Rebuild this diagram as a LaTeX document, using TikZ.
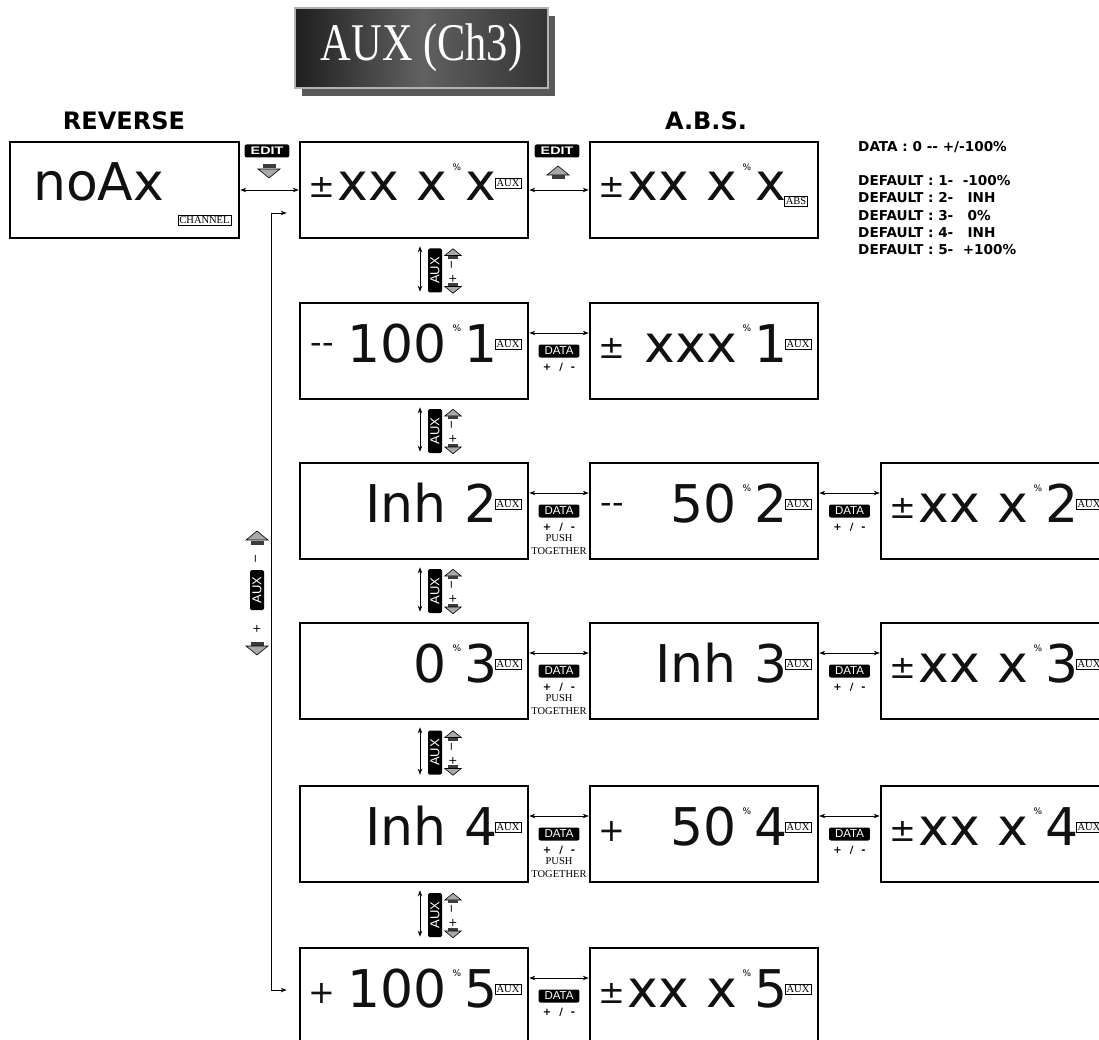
\documentclass[tikz,border=0pt]{standalone}
\usepackage{fontspec}
\setmainfont{DejaVu Sans}
\newfontfamily\lcdfont{DejaVu Sans}
\newfontfamily\tagfont{Liberation Serif}
\newfontfamily\titlefont[FakeStretch=0.8]{Liberation Serif}
\newfontfamily\keyfont{Liberation Sans}
\definecolor{lcdink}{HTML}{111111}
\definecolor{icongray}{HTML}{A8A8A8}
\definecolor{icondark}{HTML}{3C3C3C}
\usetikzlibrary{arrows.meta, positioning, calc, shadows}

\tikzset{
  lcdbox/.style={draw, line width=2.6pt, minimum width=228pt, minimum height=96pt, inner sep=0pt},
  lcdtxt/.style={inner sep=0pt, text=lcdink, font=\lcdfont\fontsize{52}{52}\selectfont},
  lcdsign/.style={inner sep=0pt, text=lcdink, font=\lcdfont\fontsize{32}{32}\selectfont},
  pct/.style={inner sep=0pt, font=\lcdfont\fontsize{9}{9}\selectfont},
  tag/.style={draw, line width=0.6pt, inner xsep=1.5pt, inner ysep=1.5pt, font=\tagfont\fontsize{10.5}{10.5}\selectfont},
  keytag/.style={fill=black, text=white, rounded corners=2pt, inner xsep=6pt, inner ysep=0pt, minimum height=13pt},
  auxv/.style={fill=black, text=white, rounded corners=1.5pt, rotate=90, inner sep=0pt,
    minimum width=44pt, minimum height=14pt, font=\keyfont\fontsize{13}{13}\selectfont},
  sm/.style={inner sep=0pt, font=\lcdfont\fontsize{11}{11}\selectfont},
  pm/.style={inner sep=0pt, font=\bfseries\fontsize{10}{10}\selectfont},
  push/.style={inner sep=0pt, align=center, font=\tagfont\fontsize{10.5}{13}\selectfont},
  hdr/.style={inner sep=0pt, font=\bfseries\fontsize{24}{24}\selectfont},
  note/.style={inner sep=0pt, font=\bfseries\fontsize{13.6}{17.2}\selectfont},
  dbl/.style={{Stealth[length=6pt,width=4.5pt]}-{Stealth[length=6pt,width=4.5pt]}, line width=0.8pt},
  titlebox/.style={minimum width=253pt, minimum height=80pt, draw=gray!60, line width=1.2pt,
    left color=black!88, right color=black!80, middle color=black!62, text=white,
    font=\titlefont\fontsize{53}{53}\selectfont,
    drop shadow={shadow xshift=7pt, shadow yshift=-8pt, fill=black!65, opacity=1}},
  upicon/.pic={
    \filldraw[fill=icongray, draw=black, line width=0.6pt] (-11,0) -- (11,0) -- (0,-9) -- cycle;
    \fill[icondark] (-6.5,0.5) rectangle (6.5,4.5);
  },
  dnicon/.pic={
    \fill[icondark] (-6.5,-0.5) rectangle (6.5,-4.5);
    \filldraw[fill=icongray, draw=black, line width=0.6pt] (-11,0) -- (11,0) -- (0,9) -- cycle;
  }
}

\begin{document}
\begin{tikzpicture}[x=1pt, y=-1pt]
  \useasboundingbox (0,0) rectangle (1099,1040);

  % Title plate
  \node[titlebox] (title) at (421.5,48) {AUX (Ch3)};

  % Headings and notes
  \node[hdr, anchor=base] (revh) at (124,130) {REVERSE};
  \node[hdr, anchor=base] (absh) at (706,130) {A.B.S.};
  \node[note, anchor=base west] (range) at (858,152) {DATA : 0 -{}- +/-100\%};
  \node[note, anchor=north west, align=left] (dflt) at (858,175.5)
    {DEFAULT : 1-~~-100\%\\DEFAULT : 2-~~~INH\\DEFAULT : 3-~~~0\%\\DEFAULT : 4-~~~INH\\DEFAULT : 5-~~+100\%};

  % Display boxes
  \node[lcdbox, minimum width=229pt] (rev) at (124.5,190) {};
  \node[lcdbox] (m0) at (414,190) {};
  \node[lcdbox] (s0) at (704,190) {};
  \node[lcdbox] (m1) at (414,351) {};
  \node[lcdbox] (s1) at (704,351) {};
  \node[lcdbox] (m2) at (414,511) {};
  \node[lcdbox] (s2) at (704,511) {};
  \node[lcdbox] (t2) at (995,511) {};
  \node[lcdbox] (m3) at (414,671) {};
  \node[lcdbox] (s3) at (704,671) {};
  \node[lcdbox] (t3) at (995,671) {};
  \node[lcdbox] (m4) at (414,834) {};
  \node[lcdbox] (s4) at (704,834) {};
  \node[lcdbox] (t4) at (995,834) {};
  \node[lcdbox] (m5) at (414,996) {};
  \node[lcdbox] (s5) at (704,996) {};

  % Row 0
  \node[lcdtxt, anchor=base west] (revt) at (33,201) {noAx};
  \node[tag] (revc) at (204.5,220.5) {CHANNEL};
  \node[lcdsign] (m0s) at (322,187) {±};
  \node[lcdtxt, anchor=base east] (m0d) at (447,201) {xx x};
  \node[pct] (m0p) at (457,167) {\%};
  \node[lcdtxt, anchor=base] (m0c) at (481,201) {x};
  \node[tag] (m0t) at (508,183) {AUX};
  \node[lcdsign] (s0s) at (612,187) {±};
  \node[lcdtxt, anchor=base east] (s0d) at (737,201) {xx x};
  \node[pct] (s0p) at (747,167) {\%};
  \node[lcdtxt, anchor=base] (s0c) at (771,201) {x};
  \node[tag] (s0t) at (796,201) {ABS};

  % Row 1
  \node[lcdsign] (m1s) at (322,348) {-{}-};
  \node[lcdtxt, anchor=base east] (m1d) at (447,362) {100};
  \node[pct] (m1p) at (457,328) {\%};
  \node[lcdtxt, anchor=base] (m1c) at (481,362) {1};
  \node[tag] (m1t) at (508,344) {AUX};
  \node[lcdsign] (s1s) at (612,348) {±};
  \node[lcdtxt, anchor=base east] (s1d) at (737,362) {xxx};
  \node[pct] (s1p) at (747,328) {\%};
  \node[lcdtxt, anchor=base] (s1c) at (771,362) {1};
  \node[tag] (s1t) at (798,344) {AUX};

  % Row 2
  \node[lcdtxt, anchor=base east] (m2d) at (447,522) {Inh};
  \node[lcdtxt, anchor=base] (m2c) at (481,522) {2};
  \node[tag] (m2t) at (508,504) {AUX};
  \node[lcdsign] (s2s) at (612,508) {-{}-};
  \node[lcdtxt, anchor=base east] (s2d) at (737,522) {50};
  \node[pct] (s2p) at (747,488) {\%};
  \node[lcdtxt, anchor=base] (s2c) at (771,522) {2};
  \node[tag] (s2t) at (798,504) {AUX};
  \node[lcdsign] (t2s) at (903,508) {±};
  \node[lcdtxt, anchor=base east] (t2d) at (1028,522) {xx x};
  \node[pct] (t2p) at (1038,488) {\%};
  \node[lcdtxt, anchor=base] (t2c) at (1062,522) {2};
  \node[tag] (t2t) at (1089,504) {AUX};

  % Row 3
  \node[lcdtxt, anchor=base east] (m3d) at (447,682) {0};
  \node[pct] (m3p) at (457,648) {\%};
  \node[lcdtxt, anchor=base] (m3c) at (481,682) {3};
  \node[tag] (m3t) at (508,664) {AUX};
  \node[lcdtxt, anchor=base east] (s3d) at (737,682) {Inh};
  \node[lcdtxt, anchor=base] (s3c) at (771,682) {3};
  \node[tag] (s3t) at (798,664) {AUX};
  \node[lcdsign] (t3s) at (903,668) {±};
  \node[lcdtxt, anchor=base east] (t3d) at (1028,682) {xx x};
  \node[pct] (t3p) at (1038,648) {\%};
  \node[lcdtxt, anchor=base] (t3c) at (1062,682) {3};
  \node[tag] (t3t) at (1089,664) {AUX};

  % Row 4
  \node[lcdtxt, anchor=base east] (m4d) at (447,845) {Inh};
  \node[lcdtxt, anchor=base] (m4c) at (481,845) {4};
  \node[tag] (m4t) at (508,827) {AUX};
  \node[lcdsign] (s4s) at (612,831) {+};
  \node[lcdtxt, anchor=base east] (s4d) at (737,845) {50};
  \node[pct] (s4p) at (747,811) {\%};
  \node[lcdtxt, anchor=base] (s4c) at (771,845) {4};
  \node[tag] (s4t) at (798,827) {AUX};
  \node[lcdsign] (t4s) at (903,831) {±};
  \node[lcdtxt, anchor=base east] (t4d) at (1028,845) {xx x};
  \node[pct] (t4p) at (1038,811) {\%};
  \node[lcdtxt, anchor=base] (t4c) at (1062,845) {4};
  \node[tag] (t4t) at (1089,827) {AUX};

  % Row 5
  \node[lcdsign] (m5s) at (322,993) {+};
  \node[lcdtxt, anchor=base east] (m5d) at (447,1007) {100};
  \node[pct] (m5p) at (457,973) {\%};
  \node[lcdtxt, anchor=base] (m5c) at (481,1007) {5};
  \node[tag] (m5t) at (508,989) {AUX};
  \node[lcdsign] (s5s) at (612,993) {±};
  \node[lcdtxt, anchor=base east] (s5d) at (737,1007) {xx x};
  \node[pct] (s5p) at (747,973) {\%};
  \node[lcdtxt, anchor=base] (s5c) at (771,1007) {5};
  \node[tag] (s5t) at (798,989) {AUX};

  % EDIT keys
  \draw[dbl] (rev.east) -- (m0.west);
  \draw[dbl] (m0.east) -- (s0.west);
  \node[keytag, font=\keyfont\bfseries\fontsize{11}{11}\selectfont] (ed1) at (267,151) {\scalebox{1.3}[1]{EDIT}};
  \node[keytag, font=\keyfont\bfseries\fontsize{11}{11}\selectfont] (ed2) at (557,151) {\scalebox{1.3}[1]{EDIT}};
  \pic at (269,169) {dnicon};
  \pic at (558,175) {upicon};

  % DATA keys
  \foreach \a/\b in {m1/s1, m2/s2, s2/t2, m3/s3, s3/t3, m4/s4, s4/t4, m5/s5} {
    \draw[dbl] ([yshift=18pt]\a.east) -- ([yshift=18pt]\b.west);
    \node[keytag, font=\keyfont\fontsize{11.5}{11.5}\selectfont] (d\a) at ($(\a.east)!.5!(\b.west)$) {DATA};
    \node[pm, below=5pt of d\a] (pm\a) {+\hspace{8pt}/\hspace{8pt}-};
  }
  \foreach \a in {m2, m3, m4}
    \node[push, below=3pt of pm\a] (pt\a) {PUSH\\TOGETHER};

  % AUX selectors between rows
  \foreach \a/\b [count=\i] in {m0/m1, m1/m2, m2/m3, m3/m4, m4/m5} {
    \coordinate (g\i) at ($(\a.south)!.5!(\b.north)$);
    \draw[dbl] ([xshift=6pt,yshift=-7pt]\a.south) -- ([xshift=6pt,yshift=10pt]\b.north);
    \node[auxv] (ax\i) at ([xshift=21pt]g\i) {AUX};
    \pic[scale=.75] at ([xshift=39pt,yshift=15pt]g\i) {upicon};
    \node[sm, rotate=90] (axm\i) at ([xshift=39pt,yshift=6pt]g\i) {−};
    \node[sm, rotate=90] (axp\i) at ([xshift=39pt,yshift=-8pt]g\i) {+};
    \pic[scale=.75] at ([xshift=39pt,yshift=-16pt]g\i) {dnicon};
  }

  % Left AUX key and loop
  \pic at (257,540) {upicon};
  \node[sm, rotate=90] (lm) at (257,559) {−};
  \node[auxv, minimum width=40pt] (lax) at (257,590) {AUX};
  \node[sm, rotate=90] (lp) at (257,629) {+};
  \pic at (257,646) {dnicon};
  \draw[dbl] ([xshift=-12pt,yshift=-23pt]m0.west) -- ++(-15,0) |- ([xshift=-12pt,yshift=6pt]m5.west);
\end{tikzpicture}
\end{document}
